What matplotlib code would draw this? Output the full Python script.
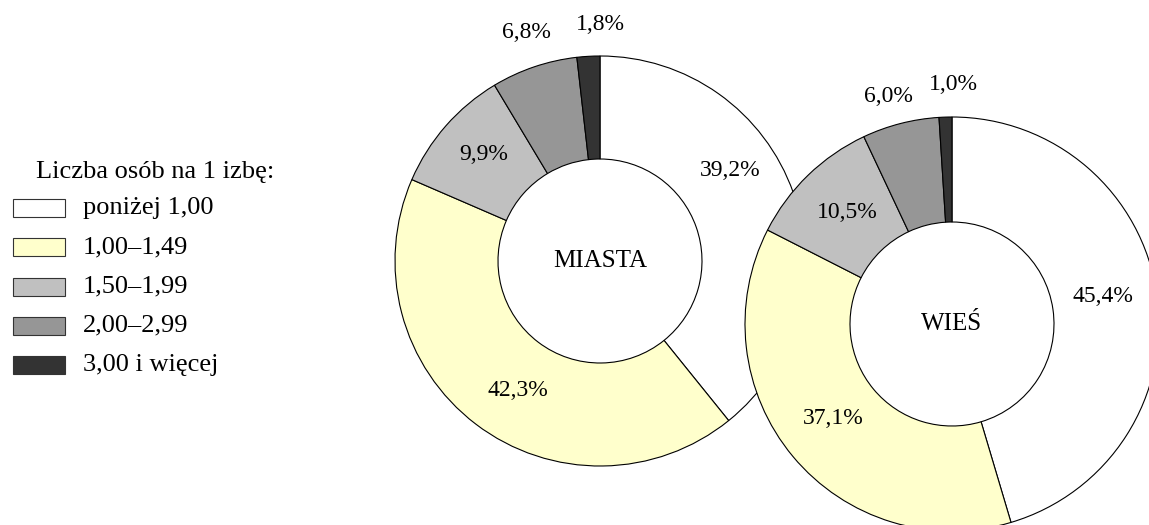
import matplotlib.pyplot as plt
from matplotlib.patches import Rectangle

plt.rcParams['font.family'] = ['Liberation Serif', 'DejaVu Serif']

categories = ['poniżej 1,00', '1,00–1,49', '1,50–1,99', '2,00–2,99', '3,00 i więcej']
colors = ['#ffffff', '#ffffcc', '#c0c0c0', '#969696', '#333333']

miasta = [39.2, 42.3, 9.9, 6.8, 1.8]
wies = [45.4, 37.1, 10.5, 6.0, 1.0]

# label positions (pixels, y from top of image)
miasta_lbl = [(730, 171), (518, 391), (484, 155), (526, 33), (600, 24)]
wies_lbl = [(1103, 297), (833, 419), (847, 212), (888, 96), (953, 85)]

W, H = 1149, 525
fig = plt.figure(figsize=(W / 100, H / 100), dpi=100)
ax = fig.add_axes([0, 0, 1, 1])

def donut(vals, cx, cy, R, r, name, lbl):
    ax.pie(vals, colors=colors, startangle=90, counterclock=False,
           center=(cx, H - cy), radius=R,
           wedgeprops=dict(width=R - r, edgecolor='black', linewidth=0.8))
    for v, (x, y) in zip(vals, lbl):
        ax.text(x, H - y, f'{v:.1f}%'.replace('.', ','), ha='center',
                va='center', fontsize=17)
    ax.text(cx, H - cy, name, ha='center', va='center', fontsize=18)

donut(miasta, 600, 261, 205, 102, 'MIASTA', miasta_lbl)
donut(wies, 952, 324, 207, 102, 'WIEŚ', wies_lbl)

# legend
ax.text(155, H - 172, 'Liczba osób na 1 izbę:', ha='center', va='center', fontsize=19)
for i, (c, lab) in enumerate(zip(colors, categories)):
    y = 208 + i * 39.3
    ax.add_patch(Rectangle((13, H - y - 9), 52, 18, facecolor=c,
                           edgecolor='#333333', linewidth=0.8))
    ax.text(83, H - y, lab, ha='left', va='center', fontsize=19)

ax.set_xlim(0, W)
ax.set_ylim(0, H)
ax.set_aspect('equal')
ax.axis('off')

plt.savefig('out.png', dpi=100)
